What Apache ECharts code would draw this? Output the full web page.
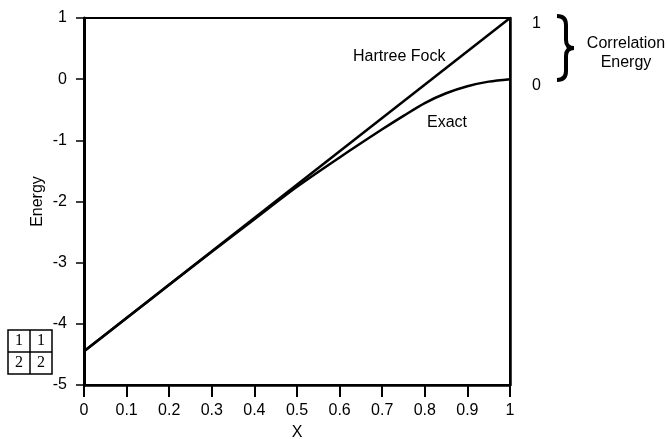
<!DOCTYPE html>
<html>
<head>
<meta charset="utf-8">
<script src="https://cdn.jsdelivr.net/npm/echarts@6/dist/echarts.min.js"></script>
<style>
  html, body { margin: 0; padding: 0; background: #fff; }
  #chart { width: 668px; height: 439px; }
</style>
</head>
<body>
<div id="chart"></div>
<script>
// Hartree-Fock energy: straight line between its end points
const hfX = [0, 1];
const hfEnergy = [-4.45, 1];

// Exact energy: bends away from Hartree-Fock above x ~ 0.5 and ends flat at 0
const exactX = [0, 0.1, 0.2, 0.3, 0.4, 0.5, 0.6, 0.7, 0.75, 0.8, 0.85, 0.9, 0.95, 1];
const exactEnergy = [-4.45, -3.905, -3.362, -2.823, -2.29, -1.76, -1.28, -0.82, -0.60, -0.39, -0.23, -0.115, -0.04, 0];

// Right-hand scale marks bracketing the correlation energy
const rightTicks = [0, 1];

const FONT = '"Liberation Sans", Arial, Helvetica, sans-serif';
const SERIF = '"Liberation Serif", "DejaVu Serif", serif';

const pairs = (xs, ys) => xs.map((x, i) => [x, ys[i]]);

const black = { stroke: '#000', lineWidth: 4, fill: 'none' };
const quad = (x1, y1, cx, cy, x2, y2) => ({
  type: 'bezierCurve',
  shape: { x1, y1, x2, y2, cpx1: cx, cpy1: cy },
  style: black
});
const seg = (x1, y1, x2, y2) => ({ type: 'line', shape: { x1, y1, x2, y2 }, style: black });

const boxText = (x, y, t) => ({
  type: 'text', x, y,
  style: { text: t, font: '16px ' + SERIF, fill: '#000', align: 'center', verticalAlign: 'middle' }
});

const chart = echarts.init(document.getElementById('chart'), null, { renderer: 'canvas', width: 668, height: 439 });

chart.setOption({
  animation: false,
  backgroundColor: '#fff',
  grid: {
    left: 84, top: 18, width: 426, height: 367,
    outerBoundsMode: 'none', containLabel: false,
    show: true, borderColor: '#000', borderWidth: 2, backgroundColor: 'transparent'
  },
  xAxis: {
    type: 'value', min: 0, max: 1, interval: 0.1,
    name: 'X', nameLocation: 'middle', nameGap: 40, nameMoveOverlap: false,
    nameTextStyle: { fontFamily: FONT, fontSize: 16, color: '#000' },
    axisLine: { show: true, onZero: false, lineStyle: { color: '#000', width: 2.5 } },
    axisTick: { show: true, inside: false, length: 12, lineStyle: { color: '#000', width: 2 } },
    axisLabel: {
      margin: 18, color: '#000', fontFamily: FONT, fontSize: 16,
      formatter: v => String(+v.toFixed(1))
    },
    splitLine: { show: false }
  },
  yAxis: [
    {
      type: 'value', min: -5, max: 1, interval: 1,
      name: 'Energy', nameLocation: 'middle', nameGap: 38, nameRotate: 90, nameMoveOverlap: false,
      nameTextStyle: { fontFamily: FONT, fontSize: 16, color: '#000' },
      axisLine: { show: true, onZero: false, lineStyle: { color: '#000', width: 3 } },
      axisTick: { show: true, inside: false, length: 8, lineStyle: { color: '#000', width: 1.5 } },
      axisLabel: { margin: 17, color: '#000', fontFamily: FONT, fontSize: 16 },
      splitLine: { show: false }
    },
    {
      type: 'value', min: -5, max: 1, interval: 1, position: 'right',
      axisLine: { show: true, onZero: false, lineStyle: { color: '#000', width: 2.5 } },
      axisTick: { show: false },
      axisLabel: {
        margin: 22, color: '#000', fontFamily: FONT, fontSize: 16,
        verticalAlign: 'top', lineHeight: 12,
        formatter: v => (rightTicks.includes(v) ? String(v) : '')
      },
      splitLine: { show: false }
    }
  ],
  series: [
    {
      name: 'Hartree Fock', type: 'line', data: pairs(hfX, hfEnergy),
      showSymbol: false, lineStyle: { color: '#000', width: 2.5 }
    },
    {
      name: 'Exact', type: 'line', data: pairs(exactX, exactEnergy),
      smooth: 0.3, showSymbol: false, lineStyle: { color: '#000', width: 2.5 }
    }
  ],
  graphic: [
    // curve labels
    { type: 'text', x: 353, y: 57, style: { text: 'Hartree Fock', font: '16px ' + FONT, fill: '#000', verticalAlign: 'middle' } },
    { type: 'text', x: 427, y: 123, style: { text: 'Exact', font: '16px ' + FONT, fill: '#000', verticalAlign: 'middle' } },
    // brace spanning the gap between 1 and 0 on the right scale
    quad(557, 16, 566, 16, 566, 25),
    seg(566, 25, 566, 40),
    quad(566, 40, 566, 48, 574, 48),
    quad(574, 48, 566, 48, 566, 56),
    seg(566, 56, 566, 71),
    quad(566, 71, 566, 80, 557, 80),
    { type: 'text', x: 626, y: 44, style: { text: 'Correlation', font: '16px ' + FONT, fill: '#000', align: 'center', verticalAlign: 'middle' } },
    { type: 'text', x: 626, y: 63, style: { text: 'Energy', font: '16px ' + FONT, fill: '#000', align: 'center', verticalAlign: 'middle' } },
    // 2x2 occupation box
    { type: 'rect', shape: { x: 8, y: 330, width: 44, height: 44 }, style: { fill: '#fff', stroke: '#000', lineWidth: 1.5 } },
    { type: 'line', shape: { x1: 30, y1: 330, x2: 30, y2: 374 }, style: { stroke: '#000', lineWidth: 1.5 } },
    { type: 'line', shape: { x1: 8, y1: 352, x2: 52, y2: 352 }, style: { stroke: '#000', lineWidth: 1.5 } },
    boxText(19, 341, '1'),
    boxText(41, 341, '1'),
    boxText(19, 363, '2'),
    boxText(41, 363, '2')
  ]
});
</script>
</body>
</html>
